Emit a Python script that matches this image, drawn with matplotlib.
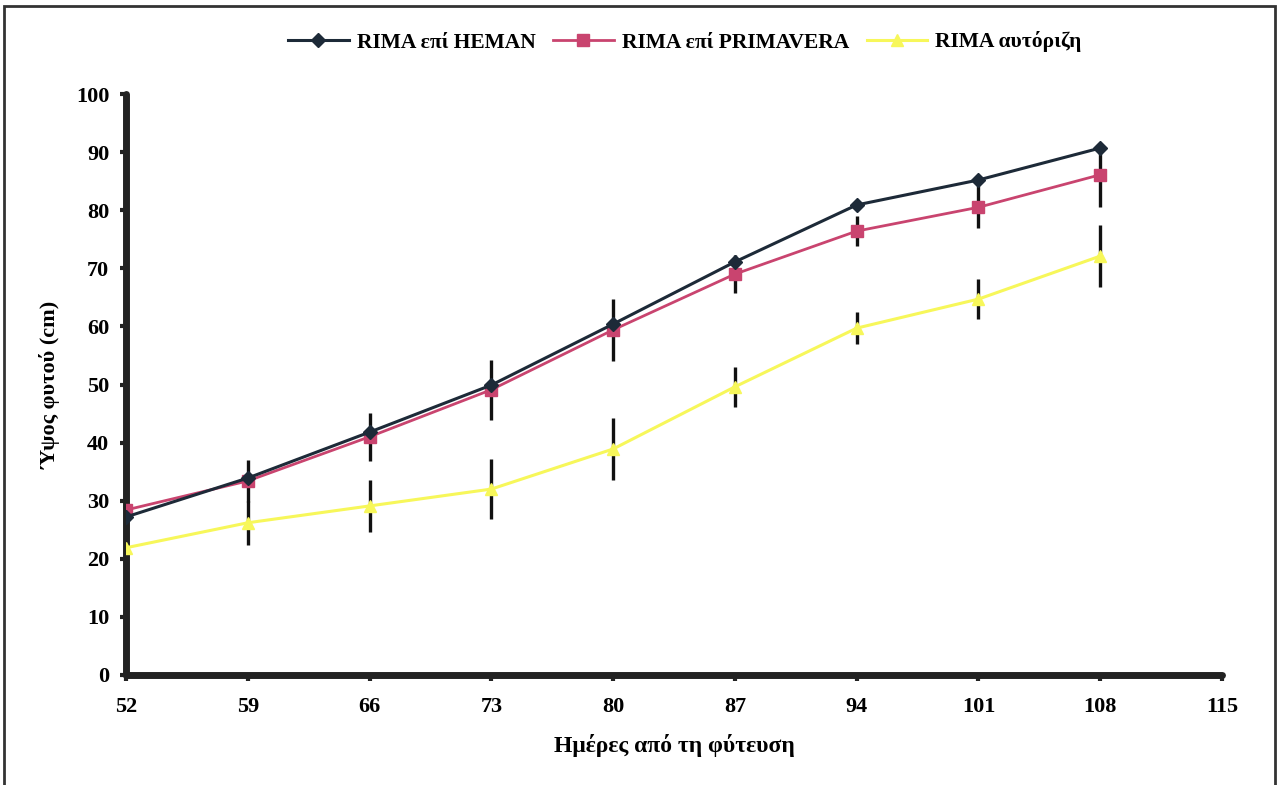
import matplotlib.pyplot as plt
from matplotlib.patches import Rectangle

days = [52, 59, 66, 73, 80, 87, 94, 101, 108]
heman = [27.2, 33.9, 41.8, 49.9, 60.4, 71.1, 80.9, 85.2, 90.7]
primavera = [28.4, 33.4, 41.0, 49.1, 59.4, 69.0, 76.4, 80.5, 86.1]
primavera_err = [0.0, 3.6, 4.1, 5.2, 5.4, 3.3, 2.6, 3.6, 5.5]
autoriza = [21.9, 26.2, 29.1, 32.0, 38.9, 49.6, 59.7, 64.7, 72.1]
autoriza_err = [0.0, 3.8, 4.5, 5.1, 5.3, 3.4, 2.7, 3.5, 5.3]

xticks = [52, 59, 66, 73, 80, 87, 94, 101, 108, 115]
yticks = [0, 10, 20, 30, 40, 50, 60, 70, 80, 90, 100]

plt.rcParams['font.family'] = ['Liberation Serif', 'DejaVu Serif']
plt.rcParams['font.weight'] = 'bold'

W, H = 1281, 785
fig = plt.figure(figsize=(W / 100, H / 100), dpi=100)
ax = fig.add_axes([126 / W, 1 - 675 / H, (1222 - 126) / W, (675 - 94) / H])

# outer frame
fig.patches.append(Rectangle((4 / W, -0.02), (1275 - 4) / W, 1 - 6 / H + 0.02,
                             transform=fig.transFigure, fill=False,
                             edgecolor='#333333', lw=2))

ax.errorbar(days, primavera, yerr=primavera_err, fmt='none', ecolor='#111111',
            elinewidth=2.4, capsize=0, zorder=2)
ax.errorbar(days, autoriza, yerr=autoriza_err, fmt='none', ecolor='#111111',
            elinewidth=2.4, capsize=0, zorder=2)

ax.plot(days, heman, '-', color='#1d2a38', lw=2.2, marker='D', ms=7,
        label='RIMA επί HEMAN', zorder=4)
ax.plot(days, primavera, '-', color='#c9446f', lw=2.0, marker='s', ms=8,
        label='RIMA επί PRIMAVERA', zorder=3)
ax.plot(days, autoriza, '-', color='#f7f75a', lw=2.2, marker='^', ms=9,
        label='RIMA αυτόριζη', zorder=3)

ax.set_xlim(52, 115)
ax.set_ylim(0, 100)
ax.set_xticks(xticks)
ax.set_yticks(yticks)
ax.tick_params(axis='both', direction='out', length=4, width=3, color='#222222',
               labelsize=16)
ax.tick_params(axis='x', pad=12)
ax.tick_params(axis='y', pad=8)
for lab in ax.get_xticklabels() + ax.get_yticklabels():
    lab.set_fontweight('bold')
for side in ('top', 'right'):
    ax.spines[side].set_visible(False)
for side in ('left', 'bottom'):
    ax.spines[side].set_linewidth(5)
    ax.spines[side].set_color('#222222')
    ax.spines[side].set_capstyle('round')

ax.set_xlabel('Ημέρες από τη φύτευση', fontsize=17, fontweight='bold', labelpad=12)
ax.set_ylabel('Ύψος φυτού (cm)', fontsize=16, fontweight='bold', labelpad=11)

leg = fig.legend(loc='center', bbox_to_anchor=(685 / W, 1 - 42 / H), ncol=3,
                 frameon=False, fontsize=15.5, handlelength=2.8, columnspacing=0.8,
                 handletextpad=0.4)
for t in leg.get_texts():
    t.set_fontweight('bold')

fig.savefig('out.png', dpi=100)
